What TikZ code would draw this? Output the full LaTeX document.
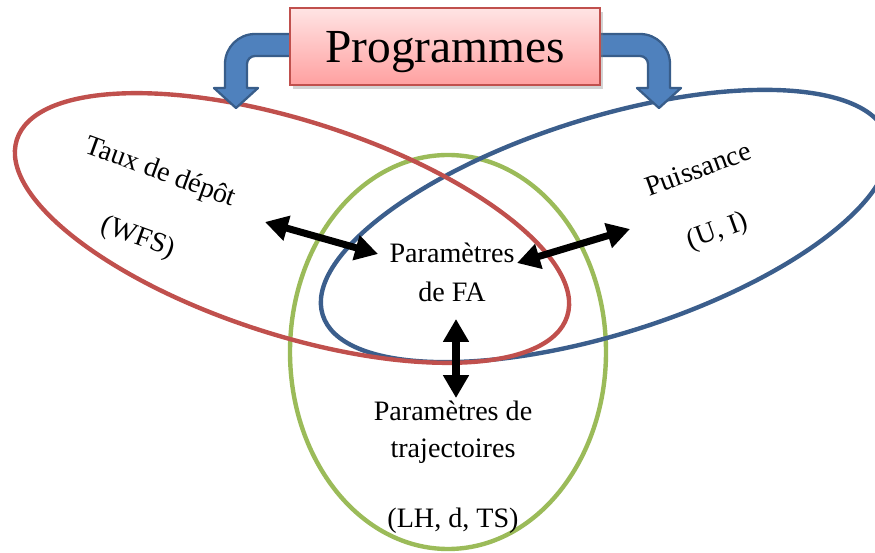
\documentclass[tikz,border=0pt]{standalone}
\usepackage{fontspec}
\setmainfont{Liberation Serif}
\usetikzlibrary{arrows.meta,shadows}
\definecolor{redc}{HTML}{C0504D}
\definecolor{bluec}{HTML}{3B5E8C}
\definecolor{greenc}{HTML}{9BBB59}
\definecolor{arrowfill}{HTML}{4F81BD}
\definecolor{arrowline}{HTML}{385D8A}
\definecolor{boxtop}{HTML}{FFE4E4}
\definecolor{boxbot}{HTML}{FFA0A0}
\begin{document}
\begin{tikzpicture}[x=0.02cm,y=-0.02cm,
  ring/.style={line width=2.5pt},
  dblarrow/.style={line width=4pt,{Triangle[length=13pt,width=14pt]}-{Triangle[length=13pt,width=14pt]}},
  lbl/.style={font=\fontsize{16}{19}\selectfont, inner sep=0pt},
  bendarrow/.style={fill=arrowfill, draw=arrowline, line width=1.3pt, line join=round}
]
\useasboundingbox (0,0) rectangle (875,553);
\begin{scope}
\clip (0,0) rectangle (875,553);
% ellipses
\draw[ring, greenc] (448,352) ellipse [x radius=158, y radius=197];
\draw[ring, bluec, shift={(605,226)}, rotate=17.5] (0,0) ellipse [x radius=296, y radius=108];
\draw[ring, redc, shift={(292,228)}, rotate=-17.8] (0,0) ellipse [x radius=289, y radius=107];
\end{scope}
% bent block arrows
\path[bendarrow] (300,34) -- (255,34) .. controls (238.4,34) and (225,47.4) .. (225,64)
  -- (225,88) -- (214,88) -- (236,108) -- (258,88) -- (247,88) -- (247,64)
  .. controls (247,59.6) and (250.6,56) .. (255,56) -- (300,56) -- cycle;
\path[bendarrow] (590,34) -- (640,34) .. controls (656.6,34) and (670,47.4) .. (670,64)
  -- (670,88) -- (681,88) -- (659,108) -- (637,88) -- (648,88) -- (648,64)
  .. controls (648,59.6) and (644.4,56) .. (640,56) -- (590,56) -- cycle;
% programmes box
\node[draw=redc, line width=0.9pt, top color=boxtop, bottom color=boxbot,
  drop shadow={shadow xshift=1.5pt, shadow yshift=-2pt, opacity=0.35},
  minimum width=6.2cm, minimum height=1.54cm, inner sep=0pt] (prog) at (445,46.5) {};
\node[font=\fontsize{27}{30}\selectfont, inner sep=0pt, anchor=base] (progtext) at (445,63) {Programmes};
% labels
\node[lbl, rotate=-20] (taux) at (160,173) {Taux de dépôt};
\node[lbl, rotate=-20] (wfs) at (138,238) {(WFS)};
\node[lbl, rotate=20] (puis) at (698,169) {Puissance};
\node[lbl, rotate=20] (ui) at (718,232) {(U, I)};
\node[lbl, anchor=base] (fa1) at (452,263) {Paramètres};
\node[lbl, anchor=base] (fa2) at (452,302) {de FA};
\node[lbl, anchor=base] (tr1) at (453,420) {Paramètres de};
\node[lbl, anchor=base] (tr2) at (453,458) {trajectoires};
\node[lbl, anchor=base] (tr3) at (453,527) {(LH, d, TS)};
% double arrows
\coordinate (la) at (265,222);
\coordinate (lb) at (378,254);
\coordinate (ra) at (517,263);
\coordinate (rb) at (630,229);
\coordinate (va) at (456,319);
\coordinate (vb) at (456,398);
\draw[dblarrow] (la) -- (lb);
\draw[dblarrow] (ra) -- (rb);
\draw[dblarrow] (va) -- (vb);
\end{tikzpicture}
\end{document}
